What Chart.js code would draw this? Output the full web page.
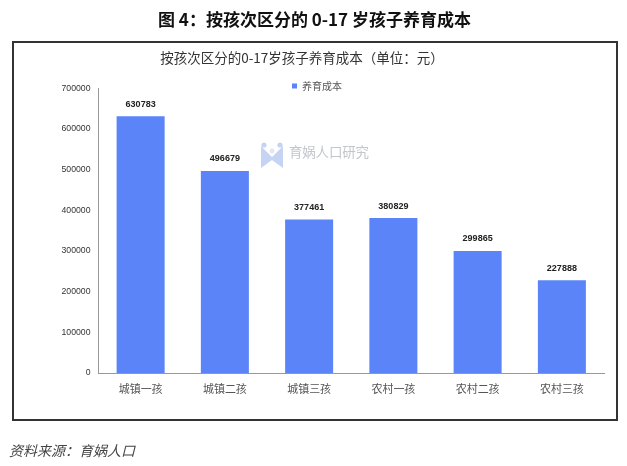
<!DOCTYPE html>
<html><head><meta charset="utf-8">
<script src="https://cdn.jsdelivr.net/npm/chart.js@4"></script>
<style>
html,body{margin:0;padding:0;background:#fff;width:627px;height:466px;overflow:hidden}
#c{position:absolute;left:0;top:0;width:627px;height:466px}
.t{position:absolute;white-space:nowrap;font-family:"Noto Sans CJK SC",sans-serif}
#head{left:0;width:627px;text-align:center;top:8px;font-size:17px;font-weight:700;color:#111;line-height:22px;padding-left:1px}
#frame{position:absolute;left:12px;top:41px;width:602px;height:376px;border:2px solid #333}
#src{left:9px;top:441px;font-size:14px;font-style:italic;color:#444;line-height:18px}
#wm{left:289px;top:142px;font-size:13.5px;color:#c3c6cd;line-height:18px;letter-spacing:-.2px}
#ic{position:absolute;left:260px;top:142px}
</style></head><body>
<canvas id="c" width="627" height="466"></canvas>
<div id="frame"></div>
<div class="t" id="head">图 4：按孩次区分的 0-17 岁孩子养育成本</div>
<svg id="ic" width="24" height="27" viewBox="0 0 24 27"><path d="M1 4 L12 15 L23 4 V26 L12 18 L1 26 Z" fill="#c5d3f5"/><circle cx="4" cy="3" r="2.6" fill="#c5d3f5"/><circle cx="20" cy="3" r="2.6" fill="#c5d3f5"/><circle cx="12" cy="9" r="2.4" fill="#dfe6fa"/></svg>
<div class="t" id="wm">育娲人口研究</div>
<div class="t" id="src">资料来源：育娲人口</div>
<script>
const categories=["城镇一孩","城镇二孩","城镇三孩","农村一孩","农村二孩","农村三孩"];
const seriesName="养育成本";
const costs=[630783,496679,377461,380829,299865,227888];
const chartTitle="按孩次区分的0-17岁孩子养育成本（单位：元）";
const yMax=700000, yStep=100000;
const cjk='"Noto Sans CJK SC",sans-serif';
const valueLabels={id:'valueLabels',afterDatasetsDraw(ch){
  const g=ch.ctx,m=ch.getDatasetMeta(0);
  g.save();g.font='bold 9px "Liberation Sans",sans-serif';g.fillStyle='#222';g.textAlign='center';g.textBaseline='middle';
  m.data.forEach((b,i)=>g.fillText(String(costs[i]),b.x,b.y-12));
  g.restore();
}};
const legendPlace={id:'legendPlace',afterLayout(ch){
  const l=ch.legend; if(!l)return;
  const dx=292-l.left, dy=81-l.top;
  l.left+=dx;l.right+=dx;l.top+=dy;l.bottom+=dy;
}};
new Chart(document.getElementById('c'),{
  type:'bar',
  data:{labels:categories,datasets:[{label:seriesName,data:costs,backgroundColor:'#5b84f8',borderWidth:0,categoryPercentage:.57,barPercentage:1}]},
  plugins:[valueLabels,legendPlace],
  options:{
    responsive:false,animation:false,devicePixelRatio:1,
    layout:{padding:{left:0,right:23,top:50,bottom:68}},
    plugins:{
      title:{display:true,text:chartTitle,color:'#333',font:{family:cjk,size:13.5,weight:'normal'},padding:{top:0,bottom:22}},
      legend:{position:'chartArea',align:'start',labels:{boxWidth:5,boxHeight:5,padding:0,color:'#555',font:{family:cjk,size:10}}},
      tooltip:{enabled:false}
    },
    scales:{
      x:{grid:{display:false},border:{color:'#999',width:1},ticks:{color:'#555',font:{family:cjk,size:11},maxRotation:0,padding:1},
         afterFit(a){a.height=25}},
      y:{min:0,max:yMax,grid:{display:false},border:{color:'#999',width:1},
         ticks:{stepSize:yStep,color:'#333',font:{family:'"Liberation Sans",sans-serif',size:8.7},padding:0,callback:v=>String(v)},
         afterFit(a){a.width=98.5}}
    }
  }
});
</script></body></html>
